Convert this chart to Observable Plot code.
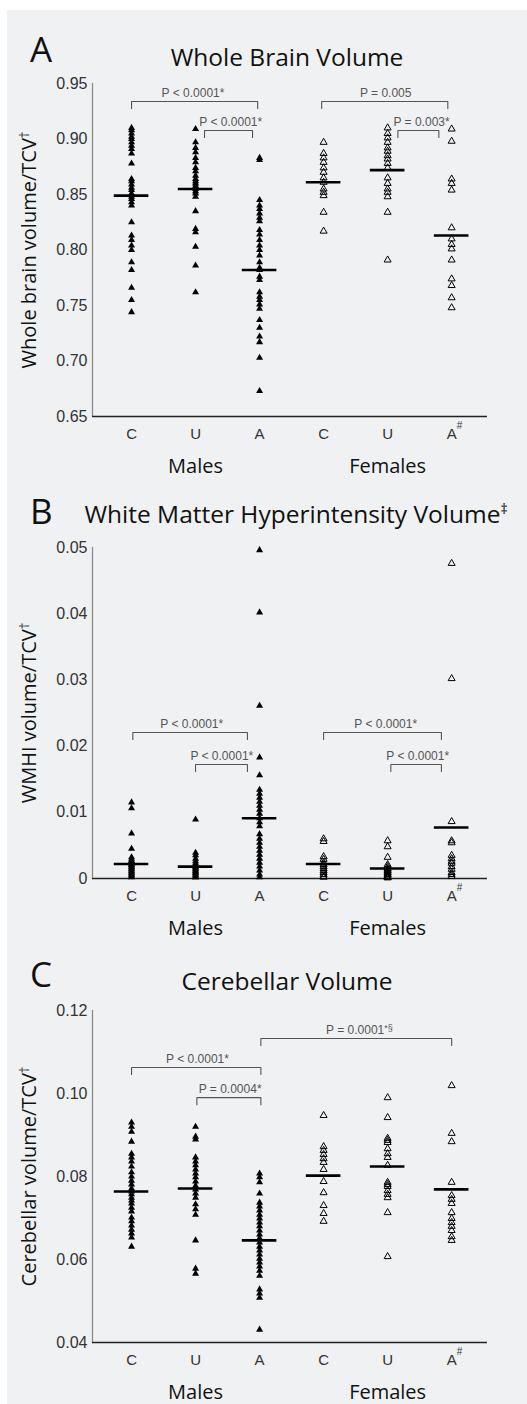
<!DOCTYPE html>
<html>
<head>
<meta charset="utf-8">
<script src="https://cdn.jsdelivr.net/npm/d3@7"></script>
<script src="https://cdn.jsdelivr.net/npm/@observablehq/plot@0.6"></script>
<style>
  body { margin: 0; background: #fff; width: 527px; height: 1404px; position: relative; overflow: hidden; }
  #bg { position: absolute; left: 7px; top: 10px; width: 520px; height: 1394px; background: #f0f1f3; }
  .panel { position: absolute; left: 0; }
  #overlay { position: absolute; left: 0; top: 0; pointer-events: none; }
</style>
</head>
<body>
<div id="bg"></div>
<div id="root"></div>
<script>
// ---------- categories / labels ----------
const catLabels = ["C", "U", "A", "C", "U", "A"];
const catSup = ["", "", "", "", "", "#"];
const sexLabels = ["Males", "Females"];
const sexAt = [1, 4];
const panelLetters = ["A", "B", "C"];
const panelTitles = ["Whole Brain Volume", "White Matter Hyperintensity Volume", "Cerebellar Volume"];
const panelTitleSup = ["", "‡", ""];
const yLabels = ["Whole brain volume/TCV†", "WMHI volume/TCV†", "Cerebellar volume/TCV†"];

// ---------- A: whole brain volume / TCV ----------
const wbMaleC = [0.910,0.908,0.905,0.902,0.900,0.897,0.894,0.891,0.887,0.878,0.864,0.862,0.859,0.856,0.854,0.851,0.848,0.846,0.843,0.840,0.825,0.813,0.809,0.804,0.800,0.789,0.782,0.766,0.755,0.744];
const wbMaleU = [0.909,0.897,0.892,0.888,0.883,0.879,0.874,0.871,0.867,0.864,0.862,0.860,0.858,0.856,0.855,0.853,0.851,0.848,0.835,0.819,0.816,0.803,0.786,0.762];
const wbMaleA = [0.883,0.881,0.845,0.840,0.837,0.833,0.829,0.826,0.818,0.814,0.809,0.804,0.800,0.795,0.789,0.784,0.782,0.776,0.773,0.762,0.758,0.755,0.751,0.747,0.737,0.730,0.722,0.717,0.703,0.673];
const wbFemC = [0.897,0.887,0.883,0.879,0.874,0.870,0.865,0.861,0.855,0.852,0.849,0.834,0.817];
const wbFemU = [0.910,0.905,0.901,0.897,0.892,0.889,0.885,0.882,0.878,0.874,0.865,0.860,0.855,0.852,0.848,0.834,0.791];
const wbFemA = [0.909,0.898,0.864,0.860,0.854,0.820,0.810,0.805,0.801,0.791,0.774,0.768,0.757,0.748];
const wbCenters = [0.849, 0.855, 0.782, 0.861, 0.872, 0.813];
const wbTicks = [0.65, 0.70, 0.75, 0.80, 0.85, 0.90, 0.95];
const wbBracketFrom = [0, 1.14, 2.97, 4.16];
const wbBracketTo = [1.97, 1.89, 4.94, 4.80];
const wbBracketLevel = [0.9338, 0.9077, 0.9338, 0.9077];
const wbBracketText = ["P < 0.0001*", "P < 0.0001*", "P = 0.005", "P = 0.003*"];
const wbBracketTextAt = [0.96, 1.55, 3.97, 4.53];

// ---------- B: WMHI volume / TCV ----------
const wmMaleC = [0.0115,0.0106,0.0068,0.0045,0.0032,0.0029,0.0027,0.0026,0.0024,0.0023,0.0021,0.0021,0.0020,0.0018,0.0017,0.0015,0.0014,0.0012,0.0011,0.0009,0.0008,0.0006,0.0005,0.0003,0.0002];
const wmMaleU = [0.0089,0.0039,0.0035,0.0030,0.0026,0.0023,0.0020,0.0018,0.0017,0.0015,0.0014,0.0012,0.0011,0.0009,0.0008,0.0006,0.0005,0.0003,0.0002,0.0002];
const wmMaleA = [0.0496,0.0402,0.0261,0.0183,0.0156,0.0134,0.0128,0.0122,0.0116,0.0110,0.0104,0.0098,0.0091,0.0085,0.0079,0.0067,0.0060,0.0054,0.0048,0.0042,0.0036,0.0030,0.0024,0.0018,0.0012,0.0006,0.0002];
const wmFemC = [0.0060,0.0056,0.0033,0.0029,0.0024,0.0021,0.0018,0.0015,0.0012,0.0009,0.0006,0.0003,0.0002];
const wmFemU = [0.0057,0.0048,0.0032,0.0021,0.0018,0.0015,0.0014,0.0012,0.0011,0.0009,0.0008,0.0006,0.0005,0.0003,0.0002,0.0002,0.0001];
const wmFemA = [0.0476,0.0302,0.0086,0.0057,0.0054,0.0035,0.0030,0.0026,0.0023,0.0018,0.0014,0.0009,0.0006,0.0003];
const wmCenters = [0.0022, 0.0018, 0.0091, 0.0022, 0.0015, 0.0077];
const wmTicks = [0, 0.01, 0.02, 0.03, 0.04, 0.05];
const wmBracketFrom = [0.02, 1.0, 3.0, 4.05];
const wmBracketTo = [1.81, 1.81, 4.84, 4.84];
const wmBracketLevel = [0.02205, 0.01722, 0.02205, 0.01722];
const wmBracketText = ["P < 0.0001*", "P < 0.0001*", "P < 0.0001*", "P < 0.0001*"];
const wmBracketTextAt = [0.94, 1.41, 3.97, 4.47];

// ---------- C: cerebellar volume / TCV ----------
const cbMaleC = [0.0930,0.0920,0.0908,0.0884,0.0855,0.0846,0.0836,0.0824,0.0810,0.0800,0.0790,0.0781,0.0771,0.0764,0.0757,0.0749,0.0742,0.0735,0.0725,0.0716,0.0701,0.0692,0.0682,0.0672,0.0663,0.0653,0.0631];
const cbMaleU = [0.0920,0.0896,0.0889,0.0846,0.0836,0.0827,0.0817,0.0807,0.0798,0.0788,0.0778,0.0769,0.0759,0.0749,0.0733,0.0721,0.0708,0.0646,0.0578,0.0566];
const cbMaleA = [0.0807,0.0798,0.0786,0.0759,0.0737,0.0728,0.0718,0.0708,0.0699,0.0689,0.0680,0.0670,0.0660,0.0651,0.0641,0.0631,0.0622,0.0612,0.0602,0.0593,0.0583,0.0573,0.0561,0.0528,0.0518,0.0508,0.0431];
const cbFemC = [0.0947,0.0872,0.0863,0.0853,0.0843,0.0834,0.0817,0.0788,0.0761,0.0730,0.0711,0.0692];
const cbFemU = [0.0990,0.0942,0.0892,0.0887,0.0882,0.0867,0.0855,0.0846,0.0827,0.0786,0.0781,0.0776,0.0766,0.0757,0.0749,0.0713,0.0607];
const cbFemA = [0.1019,0.0904,0.0884,0.0786,0.0754,0.0745,0.0735,0.0713,0.0699,0.0689,0.0680,0.0670,0.0655,0.0646];
const cbCenters = [0.0764, 0.0771, 0.0646, 0.0802, 0.0824, 0.0769];
const cbTicks = [0.04, 0.06, 0.08, 0.10, 0.12];
const cbBracketFrom = [2.02, 0, 1.02];
const cbBracketTo = [5.0, 2.02, 2.02];
const cbBracketLevel = [0.11325, 0.10627, 0.0990];
const cbBracketText = ["P = 0.0001*§", "P < 0.0001*", "P = 0.0004*"];
const cbBracketTextAt = [3.56, 1.03, 1.54];

// ---------- drawing ----------
const W = 527;
const xDomain = [-0.61, 5.56];
const numFont = "Liberation Sans, Arial, sans-serif";
const txtFont = "Open Sans, sans-serif";
const f2 = d3.format(".2f");

function makePanel(cfg) {
  const rows = [];
  cfg.series.forEach((vals, i) => vals.forEach(v => rows.push({i, v, male: i < 3})));
  const centers = cfg.centers.map((v, i) => ({i, v}));
  const plotH = cfg.height - cfg.marginTop - cfg.marginBottom;
  const drop = 7 * (cfg.domain[1] - cfg.domain[0]) / plotH;
  const br = cfg.bFrom.map((f, k) => ({f, t: cfg.bTo[k], y: cfg.bLevel[k], text: cfg.bText[k], at: cfg.bAt[k]}));
  const brPts = br.flatMap((b, k) => [
    {k, x: b.f, y: b.y - drop}, {k, x: b.f, y: b.y},
    {k, x: b.t, y: b.y}, {k, x: b.t, y: b.y - drop}
  ]);
  const svg = Plot.plot({
    width: W,
    height: cfg.height,
    marginLeft: 92, marginRight: 40,
    marginTop: cfg.marginTop, marginBottom: cfg.marginBottom,
    style: {background: "transparent", overflow: "visible", fontFamily: numFont},
    x: {domain: xDomain, axis: null},
    y: {domain: cfg.domain, axis: null},
    marks: [
      Plot.axisY({ticks: cfg.ticks, tickFormat: cfg.fmt, tickSize: 0, tickPadding: 5,
        fontSize: 16, fontFamily: numFont, fill: "#333", label: null}),
      Plot.axisX({ticks: d3.range(6), tickFormat: i => catLabels[i], tickSize: 0, tickPadding: 12,
        fontSize: 15, fontFamily: numFont, fill: "#333", label: null}),
      Plot.ruleX([xDomain[0]], {stroke: "#8a8a8a", strokeWidth: 1.3}),
      Plot.ruleY([cfg.domain[0]], {stroke: "#222", strokeWidth: 1.3}),
      Plot.line(brPts, {x: "x", y: "y", z: "k", stroke: "#555", strokeWidth: 1.1}),
      Plot.text(br, {x: "at", y: "y", text: "text", dy: -8, fontSize: 12, fontFamily: numFont, fill: "#555"}),
      Plot.dot(rows.filter(d => d.male), {x: "i", y: "v", symbol: "triangle", r: 2.6, fill: "#000", stroke: null}),
      Plot.dot(rows.filter(d => !d.male), {x: "i", y: "v", symbol: "triangle", r: 2.6, fill: "none", stroke: "#000", strokeWidth: 1}),
      Plot.ruleY(centers, {y: "v", x1: d => d.i - 0.27, x2: d => d.i + 0.27, stroke: "#000", strokeWidth: 2.6}),
      Plot.text(sexLabels, {x: (d, i) => sexAt[i], text: d => d, frameAnchor: "bottom", dy: 56,
        fontSize: 20, fontFamily: txtFont, fill: "#111"}),
      Plot.text(catSup, {x: (d, i) => i, text: d => d, frameAnchor: "bottom", dx: 8, dy: 12,
        fontSize: 10, fontFamily: numFont, fill: "#333"}),
      Plot.text([cfg.yLabel], {text: d => d, frameAnchor: "left", textAnchor: "middle", rotate: -90, dx: -63,
        fontSize: 20, fontFamily: txtFont, fill: "#111"})
    ]
  });
  // raise trailing footnote marks (†, §) as superscripts
  d3.select(svg).selectAll("text").each(function () {
    const el = this;
    if (el.childElementCount) return;
    const s = el.textContent;
    const m = s.match(/^(.*?)(\*?§|†)$/);
    if (!m) return;
    const big = m[2] === "†";
    el.textContent = m[1];
    const ts = document.createElementNS("http://www.w3.org/2000/svg", "tspan");
    ts.setAttribute("font-size", big ? 13 : 9);
    ts.setAttribute("dy", big ? -7 : -3);
    ts.textContent = m[2];
    el.appendChild(ts);
  });
  svg.classList.add("panel");
  svg.style.top = cfg.top + "px";
  svg.style.position = "absolute";
  svg.style.left = "0px";
  return svg;
}

const root = document.getElementById("root");
root.appendChild(makePanel({
  top: 20, height: 456, marginTop: 63, marginBottom: 60,
  domain: [0.65, 0.95], ticks: wbTicks, fmt: f2, yLabel: yLabels[0],
  series: [wbMaleC, wbMaleU, wbMaleA, wbFemC, wbFemU, wbFemA], centers: wbCenters,
  bFrom: wbBracketFrom, bTo: wbBracketTo, bLevel: wbBracketLevel, bText: wbBracketText, bAt: wbBracketTextAt
}));
root.appendChild(makePanel({
  top: 476, height: 462, marginTop: 71, marginBottom: 60,
  domain: [0, 0.05], ticks: wmTicks, fmt: d => d === 0 ? "0" : f2(d), yLabel: yLabels[1],
  series: [wmMaleC, wmMaleU, wmMaleA, wmFemC, wmFemU, wmFemA], centers: wmCenters,
  bFrom: wmBracketFrom, bTo: wmBracketTo, bLevel: wmBracketLevel, bText: wmBracketText, bAt: wmBracketTextAt
}));
root.appendChild(makePanel({
  top: 938, height: 464, marginTop: 72, marginBottom: 60,
  domain: [0.04, 0.12], ticks: cbTicks, fmt: f2, yLabel: yLabels[2],
  series: [cbMaleC, cbMaleU, cbMaleA, cbFemC, cbFemU, cbFemA], centers: cbCenters,
  bFrom: cbBracketFrom, bTo: cbBracketTo, bLevel: cbBracketLevel, bText: cbBracketText, bAt: cbBracketTextAt
}));

// panel letters and titles
const letterPos = [{x: 30, y: 62}, {x: 30, y: 524}, {x: 30, y: 987}];
const titlePos = [{x: 287, y: 66}, {x: 296, y: 523}, {x: 287, y: 990}];
const ov = d3.select("body").append("svg").attr("id", "overlay").attr("width", W).attr("height", 1404);
panelLetters.forEach((L, i) => {
  ov.append("text").attr("x", letterPos[i].x).attr("y", letterPos[i].y)
    .attr("font-family", txtFont).attr("font-size", 35).attr("fill", "#111").text(L);
  const t = ov.append("text").attr("x", titlePos[i].x).attr("y", titlePos[i].y)
    .attr("text-anchor", "middle").attr("font-family", txtFont).attr("font-size", 24.5).attr("fill", "#111");
  t.append("tspan").text(panelTitles[i]);
  if (panelTitleSup[i]) t.append("tspan").attr("font-size", 14).attr("dy", -9).text(panelTitleSup[i]);
});
</script>
</body>
</html>
